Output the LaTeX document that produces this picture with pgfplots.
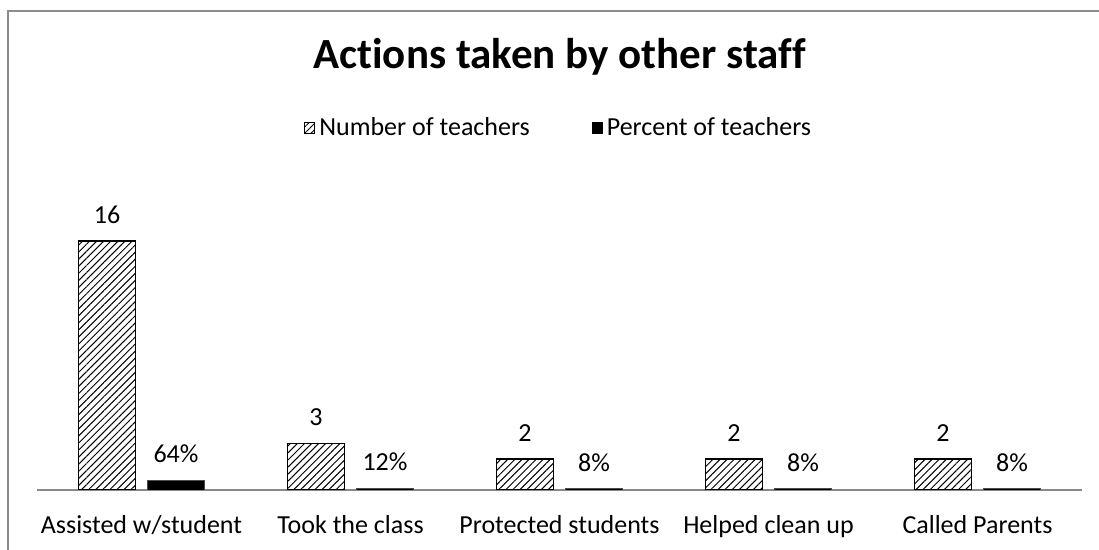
\documentclass[border=0pt]{standalone}
\usepackage{pgfplots}
\pgfplotsset{compat=1.18}
\usepackage{fontspec}
\setmainfont[Ligatures={NoCommon}]{Carlito}
\usetikzlibrary{patterns.meta}
\definecolor{axisgray}{HTML}{898989}
\definecolor{framegray}{HTML}{8C8C8C}
\begin{document}
\begin{tikzpicture}
\useasboundingbox (0,0) rectangle (549.5pt,275pt);
% chart frame (right and bottom edges fall outside the page, as in the reference)
\draw[framegray, line width=0.8pt] (4pt,-20pt) -- (4pt,269.5pt) -- (580pt,269.5pt);
\begin{axis}[
    at={(18.5pt,30pt)}, anchor=south west,
    scale only axis,
    width=522.5pt, height=140pt,
    ybar=6pt, bar width=28.5pt,
    xmin=-0.5, xmax=4.5,
    ymin=0, ymax=18,
    axis x line*=bottom,
    axis y line=none,
    x axis line style={axisgray, line width=0.8pt, -},
    xtick=data,
    xticklabels={Assisted w/student, Took the class, Protected students, Helped clean up, Called Parents},
    major tick length=0pt,
    xticklabel style={font=\fontsize{13}{15}\selectfont, yshift=-9pt},
    ytick=\empty,
    point meta=explicit symbolic,
    nodes near coords,
    nodes near coords style={font=\fontsize{13}{15}\selectfont, black, yshift=5pt},
    title={\textbf{Actions taken by other staff}},
    title style={font=\fontsize{21.5}{25}\selectfont, at={(0.5,1.464)}, anchor=base},
    legend style={at={(0.5,1.293)}, anchor=center, draw=none, legend columns=2,
        font=\fontsize{13}{15}\selectfont,
        /tikz/every even column/.append style={column sep=29pt}},
    legend cell align=left,
]
\addplot[draw=black, line width=0.8pt,
    pattern={Lines[angle=45, distance=2.5pt, line width=0.5pt]},
    legend image code/.code={\draw[draw=black, line width=0.4pt, pattern={Lines[angle=45, distance=2.2pt, line width=0.5pt]}] (0pt,-2.6pt) rectangle (5.2pt,2.6pt);}]
    coordinates {(0,16) [16] (1,3) [3] (2,2) [2] (3,2) [2] (4,2) [2]};
\addlegendentry{Number of teachers}
\addplot[draw=black!70, line width=0.3pt, fill=black,
    legend image code/.code={\fill[black] (0pt,-2.6pt) rectangle (5.2pt,2.6pt);}]
    coordinates {(0,0.64) [64\%] (1,0.12) [12\%] (2,0.08) [8\%] (3,0.08) [8\%] (4,0.08) [8\%]};
\addlegendentry{Percent of teachers}
\end{axis}
\end{tikzpicture}
\end{document}
